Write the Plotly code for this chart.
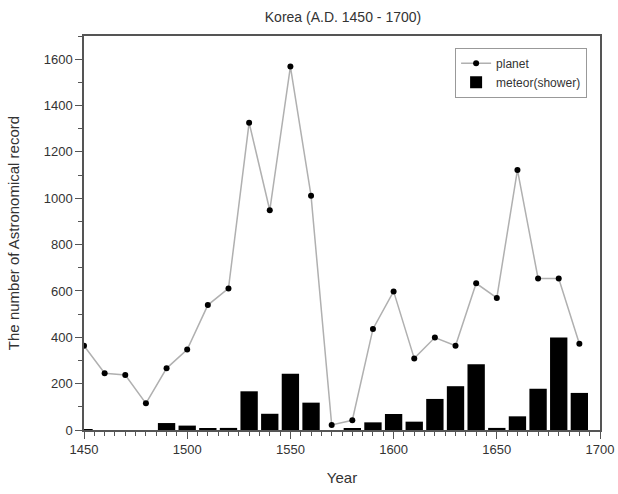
import plotly.graph_objects as go

years = [1450, 1460, 1470, 1480, 1490, 1500, 1510, 1520, 1530, 1540, 1550, 1560, 1570,
         1580, 1590, 1600, 1610, 1620, 1630, 1640, 1650, 1660, 1670, 1680, 1690]
planet = [364, 245, 237, 115, 266, 347, 539, 611, 1326, 948, 1568, 1011, 22,
          42, 436, 598, 309, 399, 364, 633, 570, 1122, 654, 654, 372]
meteor = [4, 0, 0, 0, 30, 19, 6, 9, 167, 70, 243, 118, 0,
          5, 33, 69, 36, 134, 189, 284, 9, 59, 178, 399, 160]

FONT = "Liberation Sans, Arial, sans-serif"
AX = "#555555"
TXT = "#333333"

fig = go.Figure()
fig.add_trace(go.Scatter(
    x=years, y=planet, name="planet", mode="lines+markers",
    line=dict(color="#b0b0b0", width=1.5),
    marker=dict(color="black", size=6, symbol="circle"),
))
fig.add_trace(go.Bar(
    x=years, y=meteor, name="meteor(shower)", width=8.4,
    marker=dict(color="black", line=dict(width=0)),
))

axis_common = dict(
    showgrid=False, zeroline=False, showline=True, linecolor=AX, linewidth=1.5,
    mirror=True, ticks="outside", tickcolor=AX, tickwidth=1.2, ticklen=7,
    tickfont=dict(family=FONT, size=13, color=TXT), automargin=False,
    ticklabeloverflow="allow",
)
fig.update_xaxes(
    range=[1450, 1700], dtick=50, tick0=1450,
    minor=dict(dtick=5, ticks="outside", ticklen=4, tickcolor=AX, tickwidth=1),
    title=dict(text="Year", font=dict(family=FONT, size=15, color=TXT), standoff=16),
    **axis_common,
)
fig.update_yaxes(
    range=[0, 1700], dtick=200, tick0=0,
    minor=dict(dtick=100, ticks="outside", ticklen=4, tickcolor=AX, tickwidth=1),
    title=dict(text="The number of Astronomical record",
               font=dict(family=FONT, size=15, color=TXT), standoff=20),
    **axis_common,
)
fig.update_layout(
    width=618, height=494,
    margin=dict(l=84, r=18, t=36, b=64),
    plot_bgcolor="white", paper_bgcolor="white",
    title=dict(text="Korea (A.D. 1450 - 1700)", x=0.555, xanchor="center", y=0.965, yanchor="middle",
               font=dict(family=FONT, size=14, color=TXT)),
    legend=dict(x=0.975, y=0.97, xanchor="right", yanchor="top",
                bgcolor="white", bordercolor="#999999", borderwidth=1,
                font=dict(family=FONT, size=12, color=TXT)),
    showlegend=True,
)
fig.write_html("out.html", config={"displayModeBar": False},
               post_script="document.body.style.margin='0';document.body.style.overflow='hidden';")
